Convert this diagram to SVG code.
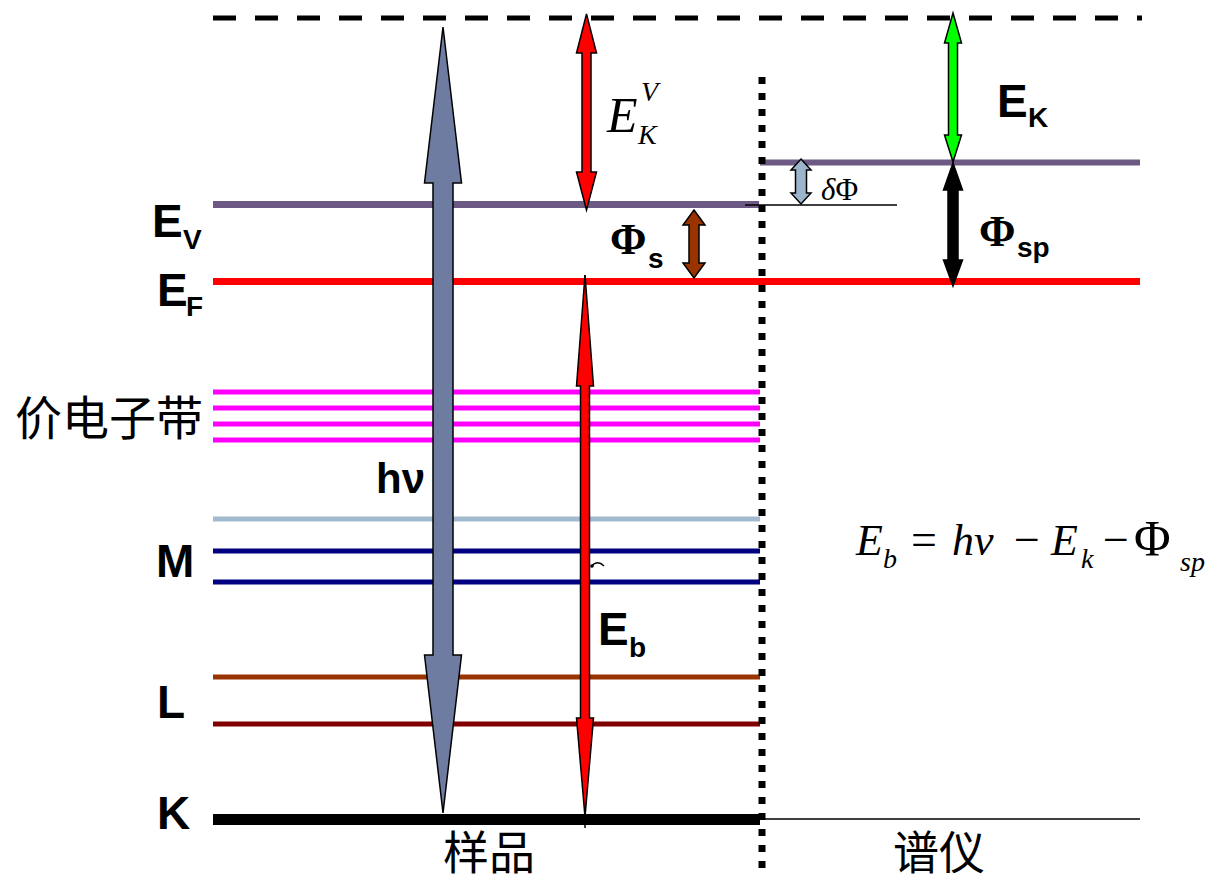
<svg xmlns="http://www.w3.org/2000/svg" width="1210" height="881" viewBox="0 0 1210 881">
<style>
.ab{font-family:"Liberation Sans",Arial,sans-serif;font-weight:bold;fill:#000}
.tm{font-family:"Liberation Serif","Times New Roman",serif;fill:#000}
.it{font-style:italic}
.cjk{font-family:"Noto Sans CJK SC","Noto Sans CJK JP",sans-serif;fill:#000}
.arw{stroke:#000;stroke-width:1.5;stroke-linejoin:miter}
</style>
<rect width="1210" height="881" fill="#fff"/>
<g id="levels">
  <line x1="213" y1="18" x2="1142" y2="18" stroke="#000" stroke-width="5" stroke-dasharray="23 19"/>
  <line x1="213" y1="204.5" x2="759" y2="204.5" stroke="#6C5A84" stroke-width="7"/>
  <line x1="760" y1="162.5" x2="1140" y2="162.5" stroke="#6C5A84" stroke-width="6"/>
  <line x1="745" y1="205" x2="897" y2="205" stroke="#000" stroke-width="1.5"/>
  <line x1="213" y1="281.5" x2="1140" y2="281.5" stroke="#FF0000" stroke-width="7"/>
  <line x1="213" y1="392" x2="760" y2="392" stroke="#FF00FF" stroke-width="5"/>
  <line x1="213" y1="408" x2="760" y2="408" stroke="#FF00FF" stroke-width="5"/>
  <line x1="213" y1="424" x2="760" y2="424" stroke="#FF00FF" stroke-width="5"/>
  <line x1="213" y1="440" x2="760" y2="440" stroke="#FF00FF" stroke-width="5"/>
  <line x1="213" y1="519" x2="760" y2="519" stroke="#A3B9CF" stroke-width="5"/>
  <line x1="213" y1="551" x2="760" y2="551" stroke="#000080" stroke-width="5"/>
  <line x1="213" y1="582" x2="760" y2="582" stroke="#000080" stroke-width="5"/>
  <line x1="213" y1="677" x2="760" y2="677" stroke="#993300" stroke-width="5"/>
  <line x1="213" y1="724" x2="760" y2="724" stroke="#800000" stroke-width="5"/>
  <line x1="213" y1="819.5" x2="760" y2="819.5" stroke="#000" stroke-width="11"/>
  <line x1="760" y1="819" x2="1140" y2="819" stroke="#000" stroke-width="1.5"/>
  <line x1="585" y1="275" x2="585" y2="828" stroke="#000" stroke-width="1.5"/>
</g>
<g id="divider">
  <line x1="762" y1="77" x2="762" y2="868" stroke="#000" stroke-width="7" stroke-dasharray="7 9"/>
</g>
<g id="connectors">
  <polygon id="hv-arrow" class="arw" fill="#6F7CA1" points="443,27 461.5,183 453,183 453,655 461.5,655 443,813 424.5,655 433,655 433,183 424.5,183"/>
  <polygon id="ekv-arrow" class="arw" fill="#FF0000" points="586.5,14 596.5,53 591,53 591,172 596.5,172 586.5,210 576.5,172 582,172 582,53 576.5,53"/>
  <polygon id="phis-arrow" class="arw" fill="#993300" points="694,210 705,225 699,225 699,263 705,263 694,278 683,263 689,263 689,225 683,225"/>
  <polygon id="dphi-arrow" class="arw" fill="#9DB5CC" points="801,159 811,170 806.5,170 806.5,193 811,193 801,204 791,193 795.5,193 795.5,170 791,170"/>
  <polygon id="ek-arrow" class="arw" fill="#00FF00" points="953,13 961.5,43 957.5,43 957.5,135 961.5,135 953,162 944.5,135 948.5,135 948.5,43 944.5,43"/>
  <polygon id="phisp-arrow" class="arw" fill="#000" points="953,163 962.5,190 958,190 958,260 962.5,260 953,286 943.5,260 948,260 948,190 943.5,190"/>
  <polygon id="eb-arrow" class="arw" fill="#FF0000" points="585,275 593.5,386 589.5,386 589.5,718 593.5,718 585,817 576.5,718 580.5,718 580.5,386 576.5,386"/>
  <path d="M591 567 Q597 559 604 566" fill="none" stroke="#000" stroke-width="1.5"/>
  <circle cx="592" cy="566" r="1.8" fill="#000"/>
</g>
<g id="labels">
  <g id="ekv"><text class="tm it" x="607" y="132" font-size="50">E</text><text class="tm it" x="641" y="101" font-size="28">V</text><text class="tm it" x="638" y="144" font-size="28">K</text></g>
  <g id="phis"><text class="tm" font-weight="bold" x="610" y="254" font-size="44">Φ</text><text class="ab" x="648" y="268" font-size="28">s</text></g>
  <g id="dphi"><text class="tm" x="821" y="200" font-size="31"><tspan font-style="italic">δ</tspan>Φ</text></g>
  <g id="ek"><text class="ab" x="997" y="117" font-size="46">E</text><text class="ab" x="1028" y="127" font-size="28">K</text></g>
  <g id="phisp"><text class="tm" font-weight="bold" x="979" y="246" font-size="44">Φ</text><text class="ab" x="1017" y="257" font-size="28">sp</text></g>
  <g id="ev"><text class="ab" x="152" y="237" font-size="46">E</text><text class="ab" x="183" y="249" font-size="28">V</text></g>
  <g id="ef"><text class="ab" x="157" y="306" font-size="46">E</text><text class="ab" x="186" y="316" font-size="28">F</text></g>
  <g id="valence"><text class="cjk" x="15" y="435" font-size="47">价电子带</text></g>
  <g id="hv"><text class="ab" x="376" y="493" font-size="42">hν</text></g>
  <g id="m"><text class="ab" x="156" y="577" font-size="46">M</text></g>
  <g id="l"><text class="ab" x="157" y="718" font-size="46">L</text></g>
  <g id="k"><text class="ab" x="157" y="829" font-size="46">K</text></g>
  <g id="eb"><text class="ab" x="598" y="645" font-size="46">E</text><text class="ab" x="629" y="657" font-size="28">b</text></g>
  <g id="sample"><text class="cjk" x="443" y="869" font-size="46">样品</text></g>
  <g id="spectrometer"><text class="cjk" x="893" y="869" font-size="46">谱仪</text></g>
  <g id="formula">
    <text class="tm it" x="856" y="555" font-size="44">E</text>
    <text class="tm it" x="883" y="568" font-size="28">b</text>
    <text class="tm" x="911" y="555" font-size="46">=</text>
    <text class="tm it" x="952" y="555" font-size="44">h</text>
    <text class="tm it" x="974" y="555" font-size="44">ν</text>
    <text class="tm" x="1014" y="555" font-size="46">−</text>
    <text class="tm it" x="1051" y="555" font-size="44">E</text>
    <text class="tm it" x="1081" y="568" font-size="28">k</text>
    <text class="tm" x="1103" y="555" font-size="46">−</text>
    <text class="tm" x="1134" y="555" font-size="50">Φ</text>
    <text class="tm it" x="1180" y="571" font-size="28">sp</text>
  </g>
</g>
</svg>
